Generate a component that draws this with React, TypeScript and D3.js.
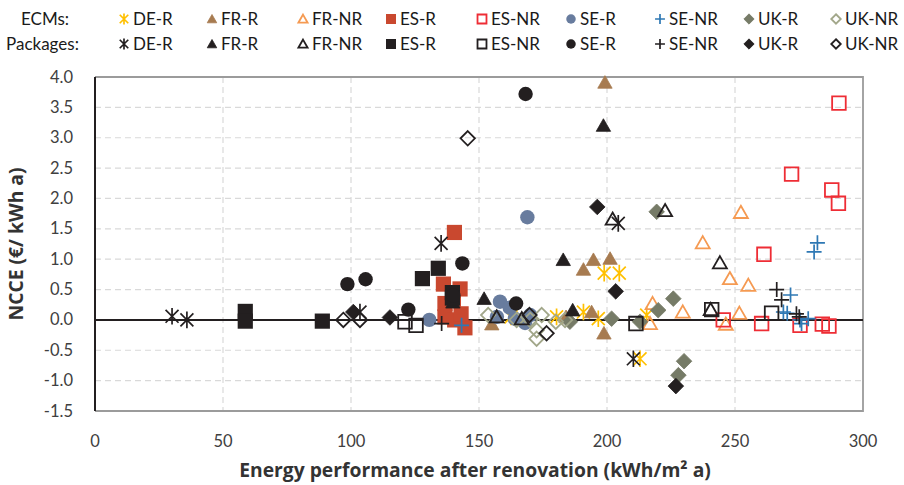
import React from "react";
import * as d3 from "d3";

// ---- data: [energy performance after renovation (kWh/m² a), NCCE (€/kWh a)] ----
const ecmDER: [number, number][] = [[198.9, 0.77], [204.8, 0.77], [180.3, 0.05], [190.8, 0.13], [196.6, 0.02], [162.5, 0.05], [212.9, -0.64], [215.5, 0.08]];
const ecmFRR: [number, number][] = [[199.2, 3.91], [190.8, 0.83], [194.7, 0.99], [201.2, 1.01], [194.0, 0.13], [198.8, -0.22], [155.0, -0.07], [184.0, 0.05]];
const ecmFRNR: [number, number][] = [[252.3, 1.77], [237.4, 1.27], [248.0, 0.68], [255.2, 0.57], [229.6, 0.13], [251.7, 0.11], [246.4, -0.07], [217.8, 0.27], [216.8, -0.06]];
const ecmESR: [number, number][] = [[140.4, 1.44], [136.1, 0.59], [142.6, 0.51], [136.7, 0.27], [136.7, 0.05], [144.5, -0.13], [140.0, 0.32], [140.5, 0.0], [143.0, 0.1]];
const ecmESNR: [number, number][] = [[290.6, 3.57], [272.1, 2.4], [287.8, 2.14], [290.4, 1.92], [261.3, 1.08], [245.4, 0.0], [260.4, -0.06], [275.4, -0.09], [284.1, -0.07], [286.7, -0.1]];
const ecmSER: [number, number][] = [[168.9, 1.69], [130.6, 0.0], [158.2, 0.3], [162.0, 0.2], [157.0, 0.05], [164.0, 0.02], [168.0, -0.05], [170.0, 0.08]];
const ecmSENR: [number, number][] = [[143.2, -0.09], [282.2, 1.27], [280.9, 1.12], [271.7, 0.41], [268.9, 0.13], [270.4, 0.11], [275.4, 0.0], [276.0, -0.06], [278.6, 0.02]];
const ecmUKR: [number, number][] = [[219.4, 1.78], [225.9, 0.35], [220.0, 0.16], [212.9, -0.03], [230.1, -0.68], [227.9, -0.91], [201.8, 0.02], [185.5, -0.03]];
const ecmUKNR: [number, number][] = [[153.6, 0.08], [172.5, -0.17], [172.5, -0.31], [174.5, 0.08], [170.0, 0.0], [183.6, 0.0], [164.7, 0.0], [180.0, -0.03]];

const pkgDER: [number, number][] = [[30.1, 0.06], [35.9, 0.0], [135.2, 1.26], [103.5, 0.13], [204.4, 1.59], [210.3, -0.64]];
const pkgFRR: [number, number][] = [[198.6, 3.2], [182.9, 0.99], [152.0, 0.35], [186.6, 0.16], [139.8, 0.29]];
const pkgFRNR: [number, number][] = [[202.2, 1.66], [222.7, 1.8], [244.1, 0.94], [240.5, 0.17], [156.9, 0.05], [166.7, 0.02]];
const pkgESR: [number, number][] = [[58.7, 0.14], [58.7, -0.02], [88.8, -0.02], [127.9, 0.68], [134.1, 0.85], [139.6, 0.45], [139.6, 0.36]];
const pkgESNR: [number, number][] = [[121.1, -0.03], [125.4, -0.09], [211.3, -0.06], [240.9, 0.17], [264.3, 0.11]];
const pkgSER: [number, number][] = [[168.2, 3.72], [98.6, 0.59], [105.7, 0.67], [143.5, 0.93], [122.4, 0.17], [164.5, 0.27], [140.0, 0.4]];
const pkgSENR: [number, number][] = [[135.4, -0.06], [266.3, 0.5], [268.2, 0.33], [275.1, 0.05], [274.0, 0.1]];
const pkgUKR: [number, number][] = [[196.2, 1.86], [203.4, 0.47], [226.9, -1.09], [100.9, 0.13], [115.2, 0.04]];
const pkgUKNR: [number, number][] = [[145.6, 2.99], [97.0, 0.0], [103.5, 0.0], [176.4, -0.22], [169.7, 0.08]];

const xTicks = [0, 50, 100, 150, 200, 250, 300];
const yTicks = [-1.5, -1.0, -0.5, 0.0, 0.5, 1.0, 1.5, 2.0, 2.5, 3.0, 3.5, 4.0];
const legendNames = ["DE-R", "FR-R", "FR-NR", "ES-R", "ES-NR", "SE-R", "SE-NR", "UK-R", "UK-NR"];

type Shape = "asterisk" | "triangle" | "square" | "circle" | "plus" | "diamond";
type Style = { shape: Shape; color: string; filled: boolean };

const INK = "#231F20";
const ecmStyles: Style[] = [
  { shape: "asterisk", color: "#FFC000", filled: false },
  { shape: "triangle", color: "#A77B50", filled: true },
  { shape: "triangle", color: "#F59A52", filled: false },
  { shape: "square", color: "#C9482F", filled: true },
  { shape: "square", color: "#EE2D35", filled: false },
  { shape: "circle", color: "#687C9E", filled: true },
  { shape: "plus", color: "#2E78B4", filled: false },
  { shape: "diamond", color: "#767B67", filled: true },
  { shape: "diamond", color: "#A2A78A", filled: false },
];
const pkgStyles: Style[] = ecmStyles.map((s) => ({ ...s, color: INK }));

const ecmSeries = [ecmDER, ecmFRR, ecmFRNR, ecmESR, ecmESNR, ecmSER, ecmSENR, ecmUKR, ecmUKNR];
const pkgSeries = [pkgDER, pkgFRR, pkgFRNR, pkgESR, pkgESNR, pkgSER, pkgSENR, pkgUKR, pkgUKNR];

const W = 904;
const H = 485;
const plot = { left: 95, right: 863, top: 77, bottom: 411 };

const x = d3.scaleLinear().domain([0, 300]).range([plot.left, plot.right]);
const y = d3.scaleLinear().domain([-1.5, 4.0]).range([plot.bottom, plot.top]);

// marker outline path centred on (0,0); s = half size
function markerPath(shape: Shape, s: number): string {
  const p = d3.path();
  switch (shape) {
    case "circle":
      p.arc(0, 0, s, 0, Math.PI * 2);
      break;
    case "square":
      p.rect(-s, -s, 2 * s, 2 * s);
      break;
    case "triangle":
      p.moveTo(0, -s * 0.95);
      p.lineTo(s, s * 0.8);
      p.lineTo(-s, s * 0.8);
      p.closePath();
      break;
    case "diamond":
      p.moveTo(0, -s);
      p.lineTo(s, 0);
      p.lineTo(0, s);
      p.lineTo(-s, 0);
      p.closePath();
      break;
    case "plus":
      p.moveTo(-s, 0);
      p.lineTo(s, 0);
      p.moveTo(0, -s);
      p.lineTo(0, s);
      break;
    case "asterisk": {
      const d = s * 0.78;
      p.moveTo(0, -s);
      p.lineTo(0, s);
      p.moveTo(-d, -d);
      p.lineTo(d, d);
      p.moveTo(-d, d);
      p.lineTo(d, -d);
      break;
    }
  }
  return p.toString();
}

function markerSize(shape: Shape, filled: boolean): number {
  switch (shape) {
    case "circle":
      return 7.2;
    case "square":
      return filled ? 7.6 : 6.8;
    case "triangle":
      return filled ? 7.2 : 7;
    case "diamond":
      return filled ? 7.8 : 7.2;
    case "plus":
      return 7.5;
    case "asterisk":
      return 8.3;
  }
}

function Marker({ st, cx, cy, scale = 1 }: { st: Style; cx: number; cy: number; scale?: number }) {
  const s = markerSize(st.shape, st.filled) * scale;
  const lineOnly = st.shape === "plus" || st.shape === "asterisk";
  return (
    <path
      d={markerPath(st.shape, s)}
      transform={`translate(${cx},${cy})`}
      fill={st.filled ? st.color : "none"}
      stroke={st.color}
      strokeWidth={st.filled ? (st.shape === "circle" || st.shape === "square" ? 0 : 0.8) : lineOnly ? 1.7 : 1.8}
      strokeLinejoin="miter"
    />
  );
}

const FONT = "Lato, 'Open Sans', sans-serif";
const TITLE_FONT = "'Open Sans', 'Noto Sans', sans-serif";

export default function App() {
  const legendX = [124, 212, 303, 391, 482, 571, 660, 749, 836];
  return (
    <svg
      width={W}
      height={H}
      viewBox={`0 0 ${W} ${H}`}
      style={{ position: "absolute", left: 0, top: 0, background: "#fff" }}
      fontFamily={FONT}
    >
      {/* legend */}
      <g fontSize={17} fill="#1a1a1a">
        <text x={21} y={25}>ECMs:</text>
        <text x={6} y={50}>Packages:</text>
        {legendNames.map((name, i) => (
          <g key={name}>
            <Marker st={ecmStyles[i]} cx={legendX[i]} cy={19} scale={0.66} />
            <text x={legendX[i] + 9} y={25}>{name}</text>
            <Marker st={pkgStyles[i]} cx={legendX[i]} cy={44} scale={0.66} />
            <text x={legendX[i] + 9} y={50}>{name}</text>
          </g>
        ))}
      </g>

      {/* grid */}
      <g stroke="#D9D9D9" strokeWidth={1.2} strokeDasharray="6 4">
        {yTicks
          .filter((t) => t !== 0 && t !== 4 && t !== -1.5)
          .map((t) => (
            <line key={`gy${t}`} x1={plot.left} x2={plot.right} y1={y(t)} y2={y(t)} />
          ))}
        {xTicks
          .filter((t) => t !== 0 && t !== 300)
          .map((t) => (
            <line key={`gx${t}`} x1={x(t)} x2={x(t)} y1={plot.top} y2={plot.bottom} />
          ))}
      </g>

      {/* plot frame */}
      <path
        d={`M${plot.left},${plot.top}H${plot.right}V${plot.bottom}H${plot.left}`}
        fill="none"
        stroke="#9B9B9B"
        strokeWidth={1.8}
      />
      <line x1={plot.left} x2={plot.left} y1={plot.top} y2={plot.bottom} stroke={INK} strokeWidth={2} />
      <line x1={plot.left} x2={plot.right} y1={y(0)} y2={y(0)} stroke={INK} strokeWidth={2} />

      {/* tick labels */}
      <g fontSize={16.5} fill="#404040">
        {yTicks.map((t) => (
          <text key={`ty${t}`} x={73} y={y(t) + 5.5} textAnchor="end">
            {t.toFixed(1)}
          </text>
        ))}
        {xTicks.map((t) => (
          <text key={`tx${t}`} x={x(t)} y={447} textAnchor="middle">
            {t}
          </text>
        ))}
      </g>

      {/* axis titles */}
      <text
        x={(plot.left + plot.right) / 2 - 4}
        y={477}
        textAnchor="middle"
        fontFamily={TITLE_FONT}
        fontSize={19.3}
        fontWeight="bold"
        fill="#333333"
      >
        Energy performance after renovation (kWh/m² a)
      </text>
      <text
        transform={`translate(23,${(plot.top + plot.bottom) / 2}) rotate(-90)`}
        textAnchor="middle"
        fontFamily={TITLE_FONT}
        fontSize={19.3}
        fontWeight="bold"
        fill="#333333"
      >
        NCCE (€/ kWh  a)
      </text>

      {/* single measures (ECMs) first, then packages */}
      <g>
        {ecmSeries.map((series, i) =>
          series.map(([vx, vy], j) => <Marker key={`e${i}-${j}`} st={ecmStyles[i]} cx={x(vx)} cy={y(vy)} />)
        )}
      </g>
      <g>
        {pkgSeries.map((series, i) =>
          series.map(([vx, vy], j) => <Marker key={`p${i}-${j}`} st={pkgStyles[i]} cx={x(vx)} cy={y(vy)} />)
        )}
      </g>
    </svg>
  );
}
